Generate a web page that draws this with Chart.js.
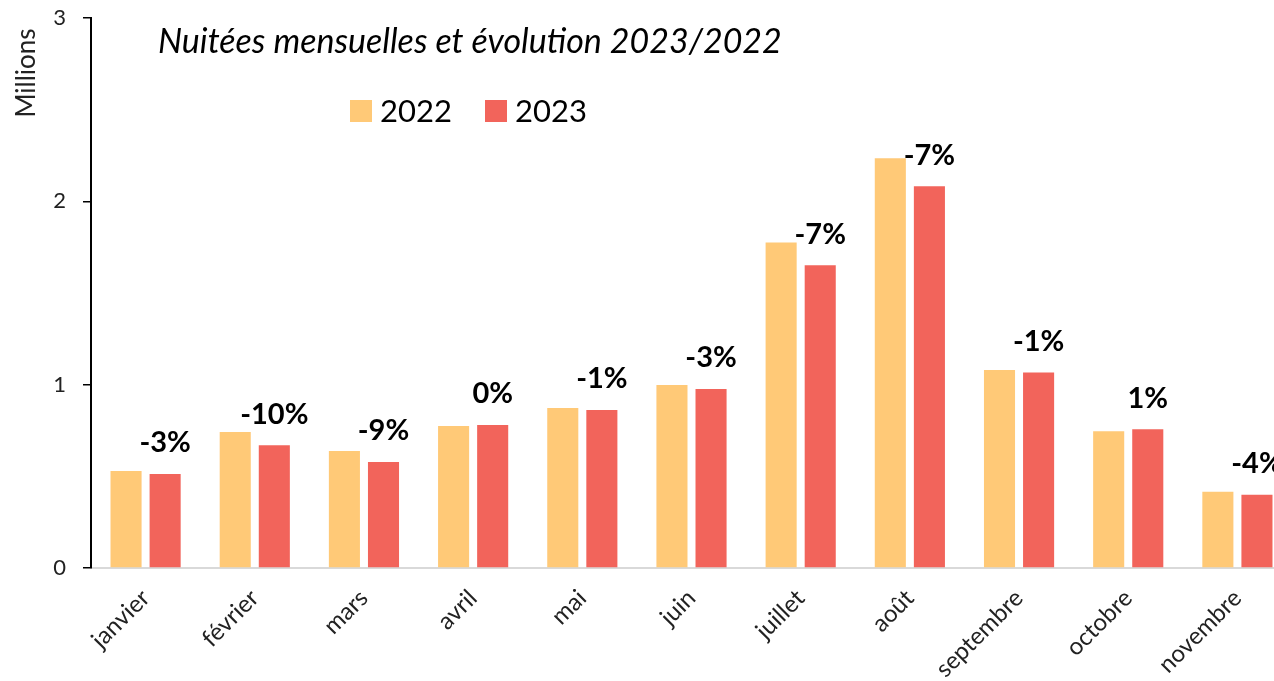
<!DOCTYPE html>
<html>
<head>
<meta charset="utf-8">
<script src="https://cdn.jsdelivr.net/npm/chart.js@4.4.2/dist/chart.umd.min.js"></script>
<style>
  html, body { margin: 0; padding: 0; background: #fff; overflow: hidden; }
  #chart { display: block; }
</style>
</head>
<body>
<canvas id="chart" width="1292" height="681"></canvas>
<script>
const months = ['janvier', 'février', 'mars', 'avril', 'mai', 'juin', 'juillet', 'août', 'septembre', 'octobre', 'novembre'];
const nuitees2022 = [0.529, 0.742, 0.638, 0.775, 0.873, 0.998, 1.775, 2.235, 1.080, 0.746, 0.416];
const nuitees2023 = [0.513, 0.669, 0.578, 0.780, 0.862, 0.977, 1.651, 2.082, 1.066, 0.757, 0.400];
const evolution = ['-3%', '-10%', '-9%', '0%', '-1%', '-3%', '-7%', '-7%', '-1%', '1%', '-4%'];

const FONT = 'Lato, "Noto Sans", sans-serif';

// titre, unité, légende et évolutions dessinés dans la zone du graphique
const overlay = {
    id: 'overlay',
    afterDatasetsDraw(chart) {
        const ctx = chart.ctx;
        ctx.save();

        const meta = chart.getDatasetMeta(1);
        ctx.font = `bold 29px ${FONT}`;
        ctx.fillStyle = '#000';
        ctx.textAlign = 'center';
        ctx.textBaseline = 'middle';
        meta.data.forEach((bar, i) => {
            ctx.fillText(evolution[i], bar.x, bar.y - 31);
        });

        ctx.font = `italic 34px ${FONT}`;
        ctx.textAlign = 'left';
        ctx.fillText('Nuitées mensuelles et évolution 2023/2022', 158, 42);

        ctx.font = `31px ${FONT}`;
        let x = 350;
        chart.data.datasets.forEach(ds => {
            ctx.fillStyle = ds.backgroundColor;
            ctx.fillRect(x, 100, 22, 22);
            ctx.fillStyle = '#000';
            ctx.fillText(ds.label, x + 30, 112);
            x += 135;
        });

        ctx.translate(27, 73);
        ctx.rotate(-Math.PI / 2);
        ctx.font = `26px ${FONT}`;
        ctx.textAlign = 'center';
        ctx.fillStyle = '#222';
        ctx.fillText('Millions', 0, 0);
        ctx.restore();
    }
};

new Chart(document.getElementById('chart'), {
    type: 'bar',
    data: {
        labels: months,
        datasets: [
            { label: '2022', data: nuitees2022, backgroundColor: '#FFC977' },
            { label: '2023', data: nuitees2023, backgroundColor: '#F2645B' }
        ]
    },
    options: {
        responsive: false,
        animation: false,
        layout: { padding: { top: 18, left: 0, right: 0, bottom: 0 } },
        datasets: {
            bar: { categoryPercentage: 0.716, barPercentage: 0.795 }
        },
        scales: {
            x: {
                grid: { display: false },
                border: { color: '#d9d9d9', width: 2 },
                ticks: {
                    color: '#222',
                    font: { family: FONT, size: 24 },
                    maxRotation: 45,
                    minRotation: 45,
                    padding: 8
                },
                afterFit: s => { s.height = 113; s.paddingLeft = 0; s.paddingRight = 0; }
            },
            y: {
                min: 0,
                max: 3,
                ticks: {
                    stepSize: 1,
                    color: '#222',
                    font: { family: FONT, size: 22 },
                    padding: 17
                },
                grid: { drawOnChartArea: false, color: '#000', tickLength: 8, lineWidth: 1.5 },
                border: { color: '#000', width: 2 },
                afterFit: s => { s.width = 91; s.paddingTop = 0; s.paddingBottom = 0; }
            }
        },
        plugins: {
            legend: { display: false },
            tooltip: { enabled: false }
        }
    },
    plugins: [overlay]
});
</script>
</body>
</html>
